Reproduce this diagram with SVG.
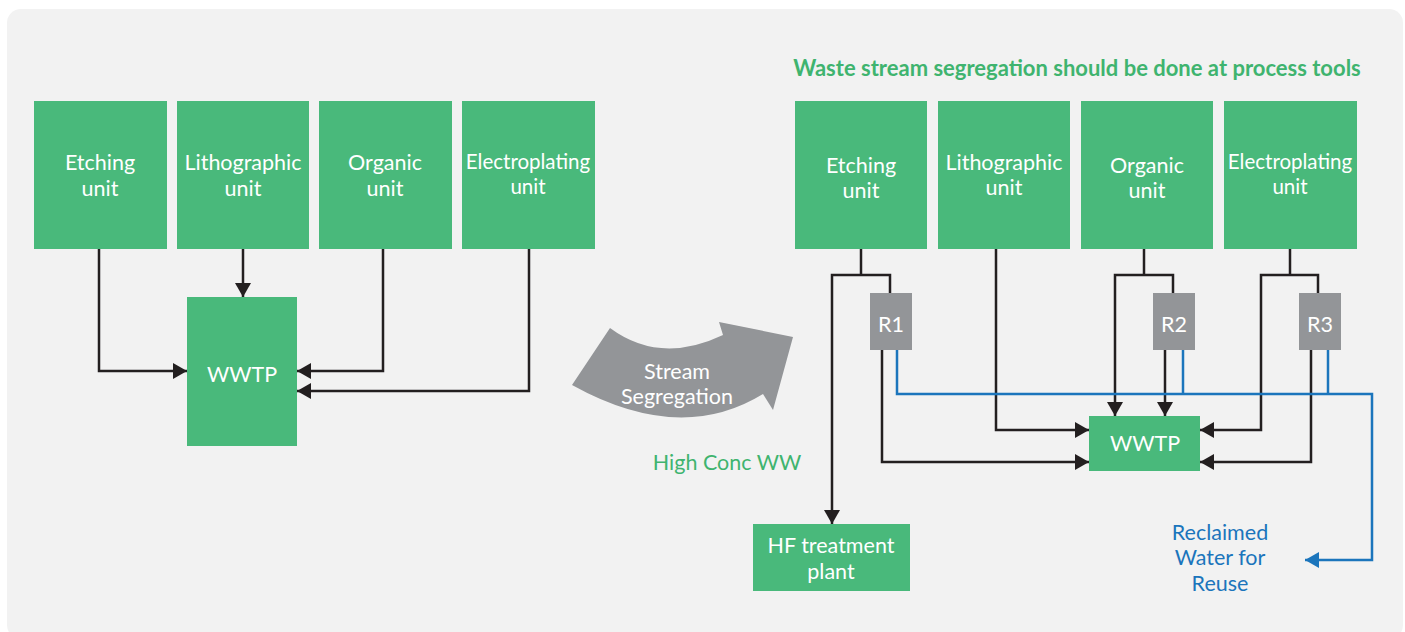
<svg xmlns="http://www.w3.org/2000/svg" width="1405" height="632" viewBox="0 0 1405 632">
<defs>
<style>
.bg{fill:#f2f2f2}
.box{fill:#49b97b}
.rbox{fill:#939598}
.t{font-family:Lato,"Open Sans",sans-serif;font-size:21.5px;fill:#ffffff;text-anchor:middle}
.e{font-size:20.5px}
.g{font-family:Lato,"Open Sans",sans-serif;font-size:21.5px;fill:#3fb46f;text-anchor:middle}
.h{font-family:Lato,"Open Sans",sans-serif;font-size:22px;font-weight:bold;fill:#3fb46f;text-anchor:middle}
.b{font-family:Lato,"Open Sans",sans-serif;font-size:21.5px;fill:#1b75bc;text-anchor:middle}
.k{fill:none;stroke:#231f20;stroke-width:2.5}
.bl{fill:none;stroke:#1b75bc;stroke-width:2.5}
</style>
<marker id="ak" viewBox="0 0 14 16" refX="14" refY="8" markerWidth="14" markerHeight="16" markerUnits="userSpaceOnUse" orient="auto">
<path d="M0,0 L14,8 L0,16 Z" fill="#231f20"/>
</marker>
<marker id="ab" viewBox="0 0 14 16" refX="14" refY="8" markerWidth="14" markerHeight="16" markerUnits="userSpaceOnUse" orient="auto">
<path d="M0,0 L14,8 L0,16 Z" fill="#1b75bc"/>
</marker>
</defs>
<rect class="bg" x="7" y="9" width="1396" height="630" rx="14"/>

<g id="connectors">
<path class="k" d="M99,249 V371 H187" marker-end="url(#ak)"/>
<path class="k" d="M243,249 V297" marker-end="url(#ak)"/>
<path class="k" d="M383,249 V371 H297" marker-end="url(#ak)"/>
<path class="k" d="M529,249 V391 H297" marker-end="url(#ak)"/>
<path class="k" d="M861,249 V275"/>
<path class="k" d="M890,293 V275 H832 V524" marker-end="url(#ak)"/>
<path class="k" d="M882,350 V462 H1089" marker-end="url(#ak)"/>
<path class="k" d="M996,249 V430 H1089" marker-end="url(#ak)"/>
<path class="k" d="M1144,249 V275"/>
<path class="k" d="M1173,293 V275 H1115 V416" marker-end="url(#ak)"/>
<path class="k" d="M1165,350 V416" marker-end="url(#ak)"/>
<path class="k" d="M1290,249 V275"/>
<path class="k" d="M1318,293 V275 H1261 V430 H1200" marker-end="url(#ak)"/>
<path class="k" d="M1311,350 V462 H1200" marker-end="url(#ak)"/>
<path class="bl" d="M897,350 V394 H1372 V560 H1305" marker-end="url(#ab)"/>
<path class="bl" d="M1183,350 V394"/>
<path class="bl" d="M1328,350 V394"/>
</g>

<g id="left-etching"><rect class="box" x="34" y="101" width="133" height="148"/><text class="t" x="100" y="170">Etching</text><text class="t" x="100" y="196">unit</text></g>
<g id="left-litho"><rect class="box" x="177" y="101" width="132" height="148"/><text class="t" x="243" y="170">Lithographic</text><text class="t" x="243" y="196">unit</text></g>
<g id="left-organic"><rect class="box" x="319" y="101" width="133" height="148"/><text class="t" x="385" y="170">Organic</text><text class="t" x="385" y="196">unit</text></g>
<g id="left-electro"><rect class="box" x="462" y="101" width="133" height="148"/><text class="t e" x="528" y="169">Electroplating</text><text class="t e" x="528" y="194">unit</text></g>
<g id="left-wwtp"><rect class="box" x="187" y="297" width="110" height="149"/><text class="t" x="242" y="382">WWTP</text></g>

<g id="stream-arrow">
<path d="M572,385 L610,328 Q660,365 723,335 L719,322 L793,337 L773,410 L763,394 Q680,445 572,385 Z" fill="#939598"/>
<text class="t" x="677" y="379">Stream</text>
<text class="t" x="677" y="404">Segregation</text>
</g>
<text class="g" x="727" y="470">High Conc WW</text>

<text class="h" x="1077" y="76">Waste stream segregation should be done at process tools</text>

<g id="right-etching"><rect class="box" x="795" y="101" width="132" height="148"/><text class="t" x="861" y="173">Etching</text><text class="t" x="861" y="198">unit</text></g>
<g id="right-litho"><rect class="box" x="938" y="101" width="132" height="148"/><text class="t" x="1004" y="170">Lithographic</text><text class="t" x="1004" y="195">unit</text></g>
<g id="right-organic"><rect class="box" x="1081" y="101" width="132" height="148"/><text class="t" x="1147" y="173">Organic</text><text class="t" x="1147" y="198">unit</text></g>
<g id="right-electro"><rect class="box" x="1224" y="101" width="133" height="148"/><text class="t e" x="1290" y="169">Electroplating</text><text class="t e" x="1290" y="194">unit</text></g>

<g id="r1"><rect class="rbox" x="870" y="293" width="42" height="57"/><text class="t" x="891" y="332">R1</text></g>
<g id="r2"><rect class="rbox" x="1153" y="293" width="42" height="57"/><text class="t" x="1174" y="332">R2</text></g>
<g id="r3"><rect class="rbox" x="1299" y="293" width="42" height="57"/><text class="t" x="1320" y="332">R3</text></g>

<g id="right-wwtp"><rect class="box" x="1089" y="416" width="111" height="55"/><text class="t" x="1145" y="451">WWTP</text></g>
<g id="hf-plant"><rect class="box" x="753" y="524" width="157" height="67"/><text class="t" x="831" y="553">HF treatment</text><text class="t" x="831" y="579">plant</text></g>

<g id="reclaimed"><text class="b" x="1220" y="540">Reclaimed</text><text class="b" x="1220" y="565">Water for</text><text class="b" x="1220" y="591">Reuse</text></g>
</svg>
